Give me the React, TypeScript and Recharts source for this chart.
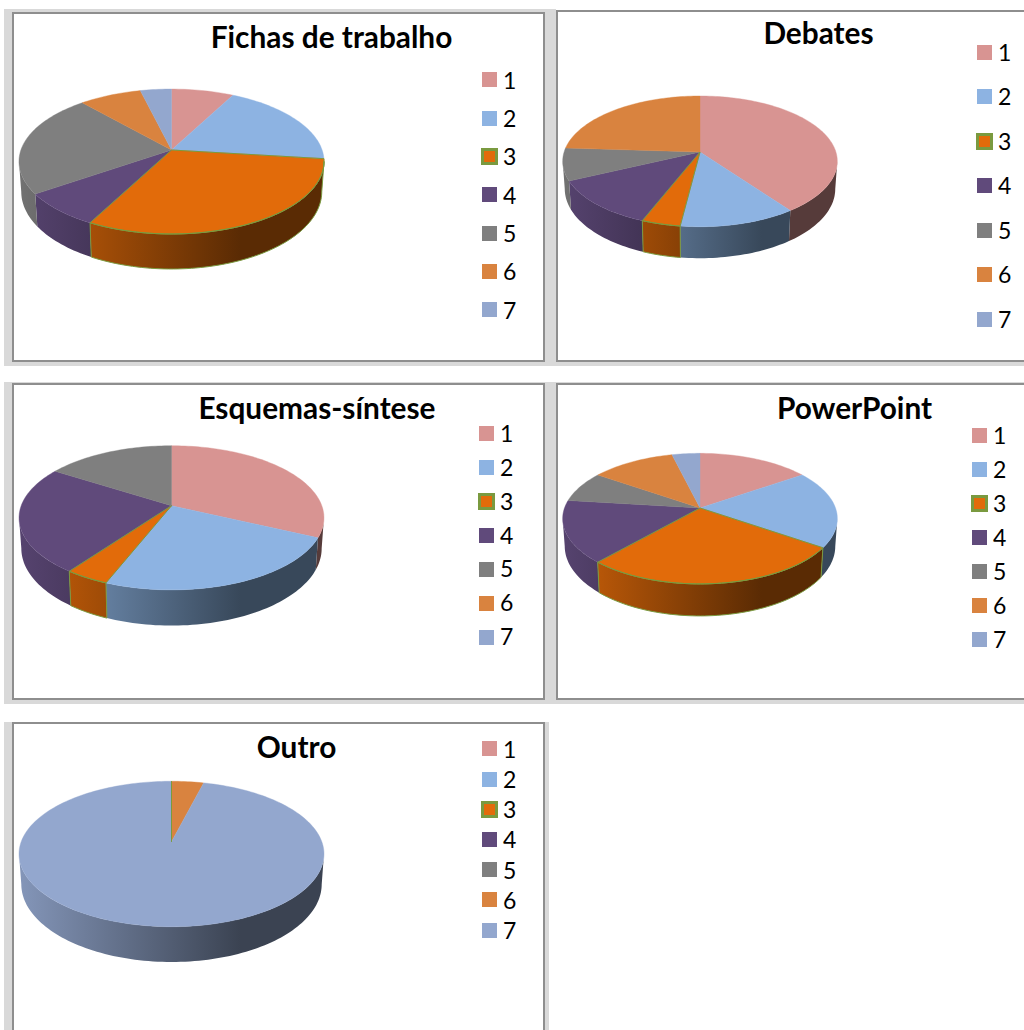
import React from 'react';
import { PieChart, Pie, Legend } from 'recharts';

// Answer counts per option, one list per teaching resource.
const categories = ['1', '2', '3', '4', '5', '6', '7'];
const fichasValues = [2, 5, 8, 2, 6, 2, 1];
const debatesValues = [10, 3, 1, 3, 2, 6, 0];
const esquemasValues = [8, 6, 1, 6, 4, 0, 0];
const powerPointValues = [4, 5, 7, 4, 2, 3, 1];
const outroValues = [0, 0, 0, 0, 0, 1, 24];

const sliceColors = ['#D89492', '#8DB3E2', '#E26B0A', '#604A7B', '#7F7F7F', '#D9833F', '#93A7CE'];
const OUTLINED = '#E26B0A';
const OUTLINE = '#7A9A3F';
const FONT = 'Lato, "Open Sans", sans-serif';

type Panel = {
  id: string;
  title: string;
  values: number[];
  box: { left: number; top: number; width: number; height: number };
  titleX: number;
  titleY: number;
  apexX: number;
  apexY: number;
  radius: number; // horizontal radius at the apex plane
  tilt: number; // vertical foreshortening
  persp: number; // strength of the perspective divide
  depth: number; // wall height at the nearest point
  legendX: number;
  legendY: number; // centre of the first legend row
  legendStep: number;
};

const panels: Panel[] = [
  {
    id: 'fichas', title: 'Fichas de trabalho', values: fichasValues,
    box: { left: 12, top: 12, width: 533, height: 350 },
    titleX: 331.5, titleY: 47.5, apexX: 171.5, apexY: 150, radius: 150.6, tilt: 0.469, persp: 0.159, depth: 35,
    legendX: 482, legendY: 80, legendStep: 38.3,
  },
  {
    id: 'debates', title: 'Debates', values: debatesValues,
    box: { left: 556, top: 10, width: 480, height: 352 },
    titleX: 818.5, titleY: 44, apexX: 700, apexY: 152, radius: 135.9, tilt: 0.471, persp: 0.143, depth: 31.5,
    legendX: 977, legendY: 52, legendStep: 44.5,
  },
  {
    id: 'esquemas', title: 'Esquemas-síntese', values: esquemasValues,
    box: { left: 12, top: 383, width: 533, height: 317 },
    titleX: 317, titleY: 418.5, apexX: 171.5, apexY: 505.7, radius: 150.3, tilt: 0.466, persp: 0.168, depth: 35.7,
    legendX: 479, legendY: 434, legendStep: 33.85,
  },
  {
    id: 'powerpoint', title: 'PowerPoint', values: powerPointValues,
    box: { left: 556, top: 383, width: 480, height: 317 },
    titleX: 854.5, titleY: 418.5, apexX: 700, apexY: 508, radius: 135.5, tilt: 0.469, persp: 0.163, depth: 32,
    legendX: 972, legendY: 435, legendStep: 34,
  },
  {
    id: 'outro', title: 'Outro', values: outroValues,
    box: { left: 12, top: 722, width: 533, height: 330 },
    titleX: 296.5, titleY: 757.5, apexX: 171.5, apexY: 841.7, radius: 150.3, tilt: 0.47, persp: 0.169, depth: 35.3,
    legendX: 482, legendY: 749, legendStep: 30.2,
  },
];

const shade = (hex: string, k: number) => {
  const n = parseInt(hex.slice(1), 16);
  const c = [(n >> 16) & 255, (n >> 8) & 255, n & 255].map((v) => Math.round(v * k));
  return `rgb(${c[0]},${c[1]},${c[2]})`;
};

// Draws one slice of a tilted disc from the angles computed by <Pie>.
// The "outline" layer sits above all fills so the green edge is never covered.
const makeSlice = (panel: Panel, layer: 'fill' | 'outline') => (props: any) => {
  const { cx, cy, outerRadius, startAngle, endAngle, fill } = props;
  const from = 90 - startAngle;
  const to = 90 - endAngle;
  const p = panel.persp;
  const b = outerRadius * panel.tilt;
  const outlined = fill === OUTLINED;
  if (layer === 'outline' && !outlined) return <g />;
  if (layer === 'fill' && to - from <= 0) return <g />;

  const rim = (deg: number) => {
    const a = (deg * Math.PI) / 180;
    const w = 1 + p * Math.cos(a);
    return { x: cx + (outerRadius * Math.sin(a)) / w, y: cy - (b * Math.cos(a)) / w, w };
  };
  const foot = (deg: number) => {
    const r = rim(deg);
    return { x: cx + (r.x - cx) * 0.985, y: r.y + (panel.depth * (1 - p)) / r.w };
  };
  const sweep = (a0: number, a1: number) => {
    const steps = Math.max(1, Math.ceil(Math.abs(a1 - a0) / 1.5));
    return Array.from({ length: steps + 1 }, (_, i) => a0 + ((a1 - a0) * i) / steps);
  };
  const str = (pts: { x: number; y: number }[]) =>
    pts.map((q) => `${q.x.toFixed(2)} ${q.y.toFixed(2)}`).join(' L ');

  const topPath = `M ${cx} ${cy} L ${str(sweep(from, to).map(rim))} Z`;

  // Only the part of the rim facing the viewer has a visible wall.
  const edge = (Math.asin(p) * 180) / Math.PI;
  const lo = Math.max(from, 90 + edge);
  const hi = Math.min(to, 270 - edge);
  const gradId = `wall-${panel.id}-${String(fill).slice(1)}`;
  const wallPath =
    hi > lo
      ? `M ${str(sweep(lo, hi).map(rim))} L ${str(sweep(hi, lo).map(foot))} Z`
      : null;

  if (layer === 'outline') {
    return (
      <g fill="none" stroke={OUTLINE} strokeWidth={1} strokeLinejoin="round">
        {wallPath && <path d={wallPath} />}
        <path d={topPath} />
      </g>
    );
  }

  const halfWidth = outerRadius / Math.sqrt(1 - p * p);
  return (
    <g>
      <defs>
        <linearGradient
          id={gradId}
          gradientUnits="userSpaceOnUse"
          x1={cx - halfWidth}
          x2={cx + halfWidth * 0.45}
          y1={0}
          y2={0}
        >
          <stop offset="0" stopColor={shade(fill, 0.9)} />
          <stop offset="1" stopColor={shade(fill, 0.4)} />
        </linearGradient>
      </defs>
      {wallPath && <path d={wallPath} fill={`url(#${gradId})`} stroke="none" />}
      <path d={topPath} fill={fill} stroke={fill} strokeWidth={0.4} strokeLinejoin="round" />
    </g>
  );
};

const makeLegend = (step: number, width: number) => (props: any) => {
  // Both pie layers report their rows; each option is listed once.
  const seen = new Set<string>();
  const entries = (props.payload || []).filter((entry: any) => {
    if (seen.has(entry.value)) return false;
    seen.add(entry.value);
    return true;
  });
  return (
    <div style={{ width, fontFamily: FONT, fontSize: 23, color: '#000' }}>
      {entries.map((entry: any) => {
        const outlined = entry.color === OUTLINED;
        return (
          <div key={entry.value} style={{ height: step, display: 'flex', alignItems: 'center' }}>
            <span
              style={{
                boxSizing: 'border-box',
                width: outlined ? 17 : 15,
                height: outlined ? 17 : 15,
                margin: outlined ? '0 -1px' : 0,
                background: entry.color,
                border: outlined ? `3px solid ${OUTLINE}` : 'none',
                flex: 'none',
              }}
            />
            <span style={{ marginLeft: 6, lineHeight: `${step}px` }}>{entry.value}</span>
          </div>
        );
      })}
    </div>
  );
};

const PanelChart = ({ panel }: { panel: Panel }) => {
  const { box } = panel;
  const rows = categories.map((name, i) => ({
    name,
    value: panel.values[i],
    fill: sliceColors[i],
  }));
  const legendTop = panel.legendY - panel.legendStep / 2 - box.top - 2;
  const legendLeft = panel.legendX - box.left - 2;
  const FillShape = makeSlice(panel, 'fill');
  const OutlineShape = makeSlice(panel, 'outline');
  const pieProps = {
    data: rows,
    dataKey: 'value',
    nameKey: 'name',
    cx: panel.apexX - box.left - 2,
    cy: panel.apexY - box.top - 2,
    innerRadius: 0,
    outerRadius: panel.radius,
    startAngle: 90,
    endAngle: -270,
    stroke: 'none',
    isAnimationActive: false,
  };
  return (
    <div
      style={{
        position: 'absolute',
        left: box.left,
        top: box.top,
        width: box.width,
        height: box.height,
        boxSizing: 'border-box',
        border: '2px solid #8E8E8E',
        background: '#fff',
      }}
    >
      <PieChart
        width={box.width - 4}
        height={box.height - 4}
        margin={{ top: 0, right: 0, bottom: 0, left: 0 }}
      >
        <text
          x={panel.titleX - box.left - 2}
          y={panel.titleY - box.top - 2}
          textAnchor="middle"
          fontFamily={FONT}
          fontWeight={700}
          fontSize={29.8}
          fill="#000"
        >
          {panel.title}
        </text>
        <Pie {...pieProps} shape={FillShape} />
        <Pie {...pieProps} legendType="none" shape={OutlineShape} />
        <Legend
          layout="vertical"
          align="right"
          verticalAlign="middle"
          content={makeLegend(panel.legendStep, 60)}
          wrapperStyle={{ left: legendLeft, top: legendTop, right: 'auto', bottom: 'auto', width: 60 }}
        />
      </PieChart>
    </div>
  );
};

const App = () => (
  <div
    style={{
      position: 'absolute',
      left: 0,
      top: 0,
      width: 1024,
      height: 1030,
      overflow: 'hidden',
      background: '#fff',
    }}
  >
    {/* Grey frame strips behind the chart panels */}
    <div style={{ position: 'absolute', left: 4, top: 9, width: 552, height: 357, background: '#D9D9D9' }} />
    <div style={{ position: 'absolute', left: 556, top: 362, width: 468, height: 4, background: '#D9D9D9' }} />
    <div style={{ position: 'absolute', left: 4, top: 382, width: 1020, height: 322, background: '#D9D9D9' }} />
    <div style={{ position: 'absolute', left: 4, top: 722, width: 545, height: 308, background: '#D9D9D9' }} />
    {panels.map((panel) => (
      <PanelChart key={panel.id} panel={panel} />
    ))}
  </div>
);

export default App;
